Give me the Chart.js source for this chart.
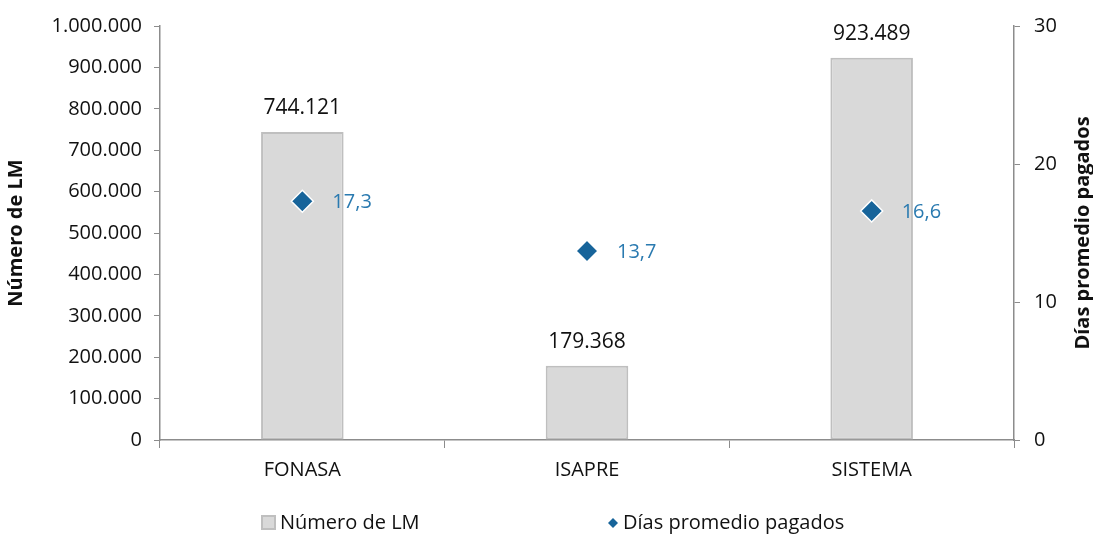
<!DOCTYPE html>
<html>
<head>
<meta charset="utf-8">
<script src="https://cdn.jsdelivr.net/npm/chart.js@4/dist/chart.umd.min.js"></script>
<style>
  html, body { margin: 0; padding: 0; background: #fff; }
  #wrap { width: 1093px; height: 534px; }
</style>
</head>
<body>
<div id="wrap"><canvas id="myChart" width="1093" height="534"></canvas></div>
<script>
const categories = ["FONASA", "ISAPRE", "SISTEMA"];
const numeroLM = [744121, 179368, 923489];
const diasPromedio = [17.3, 13.7, 16.6];
const legendNames = ["Número de LM", "Días promedio pagados"];

const FONT = "'Open Sans', sans-serif";
const AXIS_GREY = "#8c8c8c";
const BAR_FILL = "#d9d9d9";
const BAR_EDGE = "#bfbfbf";
const DIAMOND = "#17649a";
const DIAMOND_TEXT = "#2a7ab0";

// 1234567 -> "1.234.567"
const fmtMiles = (v) => String(Math.round(v)).replace(/\B(?=(\d{3})+(?!\d))/g, ".");
const fmtComa = (v) => v.toFixed(1).replace(".", ",");

const valueLabels = {
    id: "valueLabels",
    afterDatasetsDraw(chart) {
        const ctx = chart.ctx;
        ctx.save();
        ctx.textBaseline = "middle";
        ctx.font = "21px " + FONT;
        chart.getDatasetMeta(0).data.forEach((bar, i) => {
            ctx.fillStyle = "#111";
            ctx.textAlign = "center";
            ctx.fillText(fmtMiles(numeroLM[i]), bar.x, bar.y - 24);
        });
        ctx.font = "20px " + FONT;
        chart.getDatasetMeta(1).data.forEach((pt, i) => {
            ctx.fillStyle = DIAMOND_TEXT;
            ctx.textAlign = "left";
            ctx.fillText(fmtComa(diasPromedio[i]), pt.x + 30, pt.y + 1);
        });
        ctx.restore();
    }
};

const extras = {
    id: "extras",
    afterDraw(chart) {
        const ctx = chart.ctx;
        const area = chart.chartArea;
        ctx.save();
        // right axis title, reading bottom to top
        ctx.font = "bold 20px " + FONT;
        ctx.fillStyle = "#111";
        ctx.textAlign = "center";
        ctx.textBaseline = "middle";
        ctx.translate(1083, (area.top + area.bottom) / 2);
        ctx.rotate(-Math.PI / 2);
        ctx.fillText("Días promedio pagados", 0, 0);
        ctx.restore();

        // legend
        ctx.save();
        const ly = 523;
        ctx.font = "20px " + FONT;
        ctx.textBaseline = "middle";
        ctx.textAlign = "left";
        ctx.fillStyle = BAR_FILL;
        ctx.strokeStyle = BAR_EDGE;
        ctx.lineWidth = 2;
        ctx.fillRect(262, ly - 7, 13, 13);
        ctx.strokeRect(262, ly - 7, 13, 13);
        ctx.fillStyle = "#111";
        ctx.fillText(legendNames[0], 280, ly);
        ctx.fillStyle = DIAMOND;
        ctx.beginPath();
        ctx.moveTo(613, ly - 5);
        ctx.lineTo(618, ly);
        ctx.lineTo(613, ly + 5);
        ctx.lineTo(608, ly);
        ctx.closePath();
        ctx.fill();
        ctx.fillStyle = "#111";
        ctx.fillText(legendNames[1], 623, ly);
        ctx.restore();
    }
};

const data = {
    labels: categories,
    datasets: [{
        type: "bar",
        label: legendNames[0],
        data: numeroLM,
        backgroundColor: BAR_FILL,
        borderColor: BAR_EDGE,
        borderWidth: 2,
        borderSkipped: false,
        categoryPercentage: 1,
        barPercentage: 0.29,
        yAxisID: "y",
        order: 1
    }, {
        type: "line",
        label: legendNames[1],
        data: diasPromedio,
        showLine: false,
        pointStyle: "rectRot",
        pointRadius: 11,
        pointHoverRadius: 11,
        pointBackgroundColor: DIAMOND,
        pointBorderColor: "#ffffff",
        pointBorderWidth: 1.5,
        yAxisID: "y1",
        order: 0
    }]
};

const config = {
    type: "bar",
    data: data,
    options: {
        responsive: false,
        animation: false,
        layout: { padding: { top: 26, bottom: 34, left: 0, right: 0 } },
        plugins: {
            legend: { display: false },
            tooltip: { enabled: false }
        },
        scales: {
            x: {
                grid: {
                    offset: true,
                    drawOnChartArea: false,
                    color: AXIS_GREY,
                    tickLength: 8
                },
                border: { color: AXIS_GREY, width: 1.5 },
                ticks: { color: "#111", font: { family: FONT, size: 20 }, padding: 10 },
                afterFit: (s) => { s.height = 60; }
            },
            y: {
                position: "left",
                min: 0,
                max: 1000000,
                ticks: {
                    stepSize: 100000,
                    color: "#111",
                    font: { family: FONT, size: 20 },
                    padding: 12,
                    callback: (v) => fmtMiles(v)
                },
                grid: { drawOnChartArea: false, color: AXIS_GREY, tickLength: 6 },
                border: { color: AXIS_GREY, width: 1.5 },
                title: {
                    display: true,
                    text: "Número de LM",
                    color: "#111",
                    font: { family: FONT, size: 20, weight: "bold" },
                    padding: { top: 4, bottom: 0 }
                },
                afterFit: (s) => { s.width = 160; }
            },
            y1: {
                position: "right",
                min: 0,
                max: 30,
                ticks: {
                    stepSize: 10,
                    color: "#111",
                    font: { family: FONT, size: 20 },
                    padding: 14
                },
                grid: { drawOnChartArea: false, color: AXIS_GREY, tickLength: 6 },
                border: { color: AXIS_GREY, width: 1.5 },
                afterFit: (s) => { s.width = 79; }
            }
        }
    },
    plugins: [valueLabels, extras]
};

new Chart(document.getElementById("myChart"), config);
</script>
</body>
</html>
